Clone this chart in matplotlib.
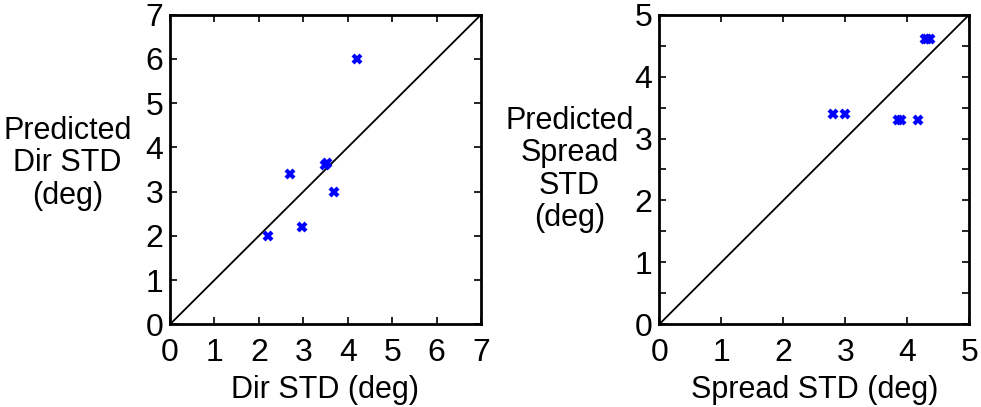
import numpy as np
import matplotlib.pyplot as plt
from matplotlib.ticker import FuncFormatter

plt.rcParams['font.family'] = ['Liberation Sans', 'DejaVu Sans']

# Direction STD: measured vs predicted (deg)
dir_meas = [2.2, 2.7, 2.97, 3.5, 3.53, 3.7, 4.2]
dir_pred = [2.0, 3.4, 2.2, 3.6, 3.65, 3.0, 6.0]

# Spread STD: measured vs predicted (deg)
spr_meas = [2.8, 3.0, 3.85, 3.9, 4.18, 4.28, 4.32, 4.36]
spr_pred = [3.4, 3.4, 3.3, 3.3, 3.3, 4.6, 4.6, 4.6]

fig = plt.figure(figsize=(9.81, 4.07), dpi=100)
ax1 = fig.add_axes([0.1733, 0.2032, 0.317, 0.7607])
ax2 = fig.add_axes([0.672, 0.2032, 0.316, 0.7607])


def style(ax, lim):
    ax.plot([0, lim], [0, lim], color='black', lw=1.3)
    ax.set_xlim(0, lim)
    ax.set_ylim(0, lim)
    for s in ax.spines.values():
        s.set_linewidth(2)
    ax.tick_params(direction='in', top=True, right=True, length=5, width=1.2,
                   labelsize=23)
    ax.tick_params(axis='x', pad=10)
    ax.tick_params(axis='y', pad=5)


style(ax1, 7)
ax1.plot(dir_meas, dir_pred, 'x', color='blue', ms=6, mew=3)
ax1.set_xticks(range(8))
ax1.set_yticks(range(8))
ax1.set_xlabel('Dir STD (deg)', fontsize=22, labelpad=5)
ax1.set_ylabel('Predicted\nDir STD\n(deg)', fontsize=22, rotation=0,
               ha='center', va='center', linespacing=1.12)
ax1.yaxis.set_label_coords(-0.33, 0.52)

style(ax2, 5)
ax2.plot(spr_meas, spr_pred, 'x', color='blue', ms=6, mew=3)
ax2.set_xticks(range(6))
ax2.set_yticks(np.arange(0, 5.01, 0.5))
ax2.yaxis.set_major_formatter(FuncFormatter(
    lambda v, pos: '%d' % v if abs(v - round(v)) < 1e-6 else ''))
ax2.set_xlabel('Spread STD (deg)', fontsize=22, labelpad=5)
ax2.set_ylabel('Predicted\nSpread\nSTD\n(deg)', fontsize=22, rotation=0,
               ha='center', va='center', linespacing=1.1)
ax2.yaxis.set_label_coords(-0.29, 0.50)

fig.savefig('out.png', dpi=100)
